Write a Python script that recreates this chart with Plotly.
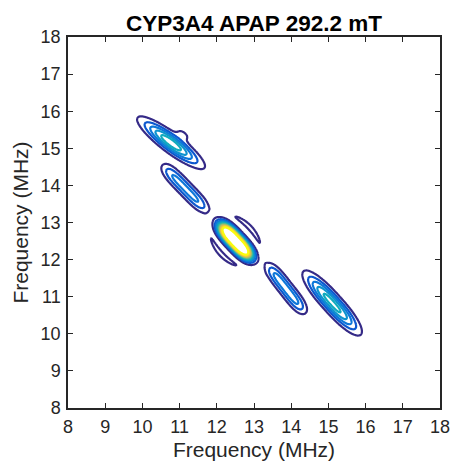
import numpy as np
import plotly.graph_objects as go

# Peak parameters (MHz)
peak_x = [10.77, 11.15, 12.50, 13.86, 15.10, 12.89, 12.12, 11.10]
peak_y = [15.15, 13.92, 12.50, 11.22, 10.83, 12.86, 12.15, 15.38]
peak_amp = [0.29, 0.17, 1.00, 0.18, 0.27, 0.09, 0.09, 0.055]
peak_sig_major = [0.60, 0.70, 0.45, 0.67, 0.707, 0.44, 0.45, 0.18]
peak_sig_minor = [0.144, 0.13, 0.122, 0.127, 0.147, 0.052, 0.052, 0.09]
peak_shape = [2.0, 4.0, 3.0, 4.0, 2.5, 2.0, 2.0, 2.0]
peak_bend = [0.0, 0.0, 0.0, 0.0, 0.0, 0.35, -0.35, 0.0]
peak_angle = [-37, -46, -47, -52, -48, -47, -47, -37]

levels = dict(start=0.05, end=0.55, size=0.05)
tick_vals = [8, 9, 10, 11, 12, 13, 14, 15, 16, 17, 18]

freq = np.linspace(8, 18, 601)
X, Y = np.meshgrid(freq, freq)
Z = np.zeros_like(X)
for cx, cy, a, sa, sb, pa, bend, ang in zip(peak_x, peak_y, peak_amp, peak_sig_major,
                                           peak_sig_minor, peak_shape, peak_bend, peak_angle):
    t = np.deg2rad(ang)
    dx, dy = X - cx, Y - cy
    u = dx * np.cos(t) + dy * np.sin(t)
    v = -dx * np.sin(t) + dy * np.cos(t) + bend * u ** 2
    Z += a * np.exp(-0.5 * (np.abs(u / sa) ** pa + (v / sb) ** 2))

parula = [
    [0.000, "#352a87"], [0.125, "#0363e1"], [0.250, "#1485d4"],
    [0.375, "#06a7c6"], [0.500, "#38b99e"], [0.625, "#92bf73"],
    [0.750, "#d9ba56"], [0.875, "#fcce2e"], [1.000, "#f9fb0e"],
]

fig = go.Figure(go.Contour(
    x=freq, y=freq, z=Z,
    contours=dict(**levels, coloring="lines"),
    colorscale=parula, zmin=levels["start"], zmax=levels["end"],
    line=dict(width=2.2), showscale=False,
))

axis_common = dict(
    range=[8, 18], tickvals=tick_vals, ticks="inside", ticklen=5, tickwidth=1.3,
    tickcolor="#262626", showline=True, linecolor="#262626", linewidth=1.5,
    mirror="ticks", showgrid=False, zeroline=False, automargin=False,
    tickfont=dict(family="Liberation Sans", size=18, color="#262626"),
)
fig.update_xaxes(**axis_common, ticklabelstandoff=2,
                 title=dict(text="Frequency (MHz)", standoff=6,
                            font=dict(family="Liberation Sans", size=21, color="#262626")))
fig.update_yaxes(**axis_common, ticklabelstandoff=2,
                 title=dict(text="Frequency (MHz)", standoff=6,
                            font=dict(family="Liberation Sans", size=21, color="#262626")))

fig.update_layout(
    width=455, height=461,
    margin=dict(l=68, r=15, t=37, b=53),
    plot_bgcolor="white", paper_bgcolor="white",
    title=dict(text="<b>CYP3A4 APAP 292.2 mT</b>", x=0.5, xref="paper", xanchor="center",
               y=1 - 23 / 461, yref="container", yanchor="middle",
               font=dict(family="Liberation Sans", size=22.5, color="#000000")),
)
fig.write_html("out.html")
